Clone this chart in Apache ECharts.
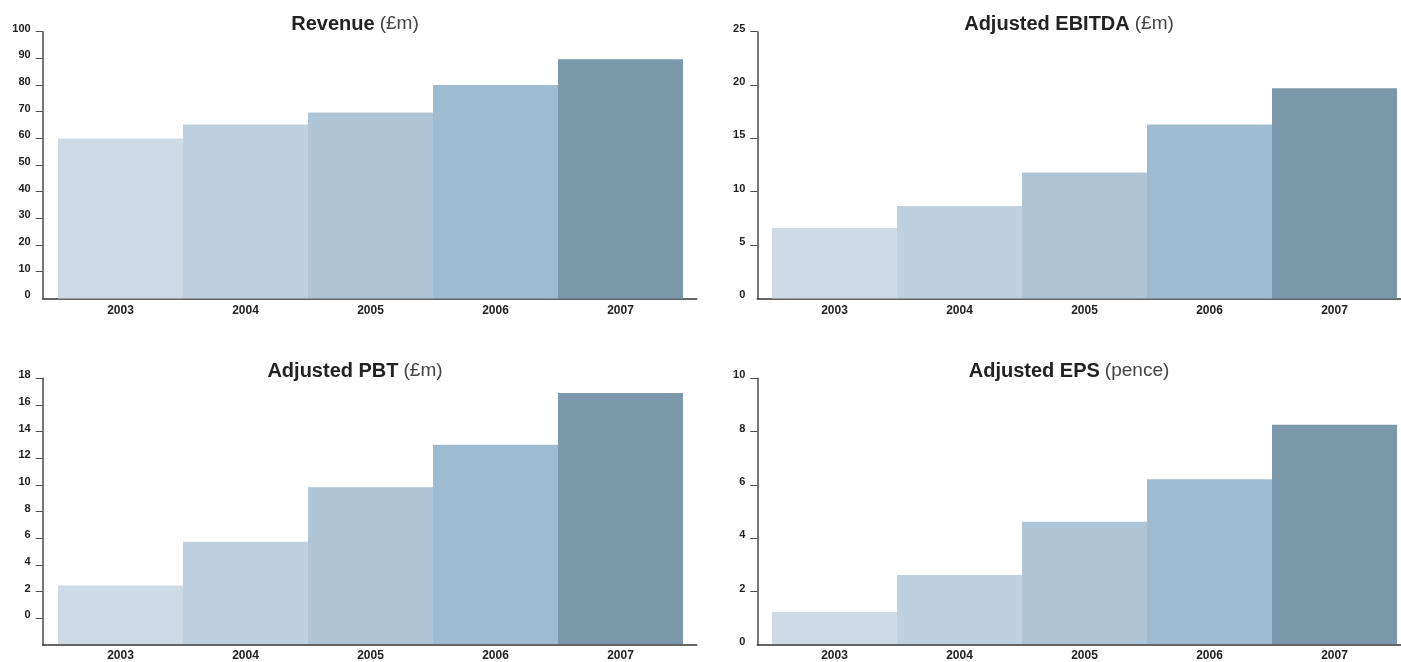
<!DOCTYPE html>
<html>
<head>
<meta charset="utf-8">
<script src="https://cdn.jsdelivr.net/npm/echarts@6/dist/echarts.min.js"></script>
<style>
html,body{margin:0;padding:0;background:#fff;}
#chart{width:1401px;height:662px;}
</style>
</head>
<body>
<div id="chart"></div>
<script>
// ---- data ----
const years = ['2003', '2004', '2005', '2006', '2007'];
const revenue = [60, 65.2, 69.7, 80, 89.7];
const ebitda = [6.6, 8.65, 11.8, 16.3, 19.7];
const pbt = [2.4, 5.7, 9.8, 13.0, 16.9];
const eps = [1.2, 2.6, 4.6, 6.2, 8.25];
const titleBold = ['Revenue', 'Adjusted EBITDA', 'Adjusted PBT', 'Adjusted EPS'];
const titleUnit = ['(£m)', '(£m)', '(£m)', '(pence)'];
const axisMin = [0, 0, -2, 0];
const axisMax = [100, 25, 18, 10];
const axisStep = [10, 5, 2, 2];
const tickLabels = [
  [0, 10, 20, 30, 40, 50, 60, 70, 80, 90, 100],
  [0, 5, 10, 15, 20, 25],
  [0, 2, 4, 6, 8, 10, 12, 14, 16, 18],
  [0, 2, 4, 6, 8, 10]
];

// ---- styles / layout ----
const barColors = ['#cfdbe4', '#bfd1de', '#afc5d5', '#a0bbcf', '#7b99aa'];
const FONT = '"Liberation Sans", Arial, Helvetica, sans-serif';
const layout = [
  { axisLeft: 42.7, axisWidth: 654, barLeft: 58, barWidth: 625, top: 31.7, titleX: 355, titleTop: 14 },
  { axisLeft: 757.3, axisWidth: 644, barLeft: 772, barWidth: 625, top: 31.7, titleX: 1069, titleTop: 14 },
  { axisLeft: 42.7, axisWidth: 654, barLeft: 58, barWidth: 625, top: 378.3, titleX: 355, titleTop: 361 },
  { axisLeft: 757.3, axisWidth: 644, barLeft: 772, barWidth: 625, top: 378.3, titleX: 1069, titleTop: 361 }
];
const plotHeight = 266.7;
const seriesData = [revenue, ebitda, pbt, eps];

const grid = [], xAxis = [], yAxis = [], series = [], title = [];
seriesData.forEach(function (vals, p) {
  const L = layout[p];
  const gAxis = grid.length;
  grid.push({ left: L.axisLeft, top: L.top, width: L.axisWidth, height: plotHeight, containLabel: false });
  const gBar = grid.length;
  grid.push({ left: L.barLeft, top: L.top, width: L.barWidth, height: plotHeight, containLabel: false });

  // axis-only grid
  xAxis.push({
    gridIndex: gAxis, type: 'value', min: 0, max: 1,
    axisLine: { show: true, onZero: false, lineStyle: { color: '#333', width: 1.5 } },
    axisTick: { show: false }, axisLabel: { show: false }, splitLine: { show: false }
  });
  yAxis.push({
    gridIndex: gAxis, type: 'value', min: axisMin[p], max: axisMax[p], interval: axisStep[p],
    axisLine: { show: true, onZero: false, lineStyle: { color: '#4a4a4a', width: 1.5 } },
    axisTick: {
      show: true, length: 7, lineStyle: { color: '#4a4a4a', width: 1 },
      customValues: tickLabels[p].filter(function (v) { return v > axisMin[p]; })
    },
    axisLabel: {
      show: true, margin: 12, fontSize: 11, fontWeight: 'bold', color: '#222', fontFamily: FONT,
      verticalAlign: 'bottom', lineHeight: 6,
      customValues: tickLabels[p],
      formatter: function (v) { return v < 0 ? '' : String(v); }
    },
    splitLine: { show: false }
  });

  // bar grid
  const xi = xAxis.length;
  xAxis.push({
    gridIndex: gBar, type: 'category', data: years,
    axisLine: { show: false }, axisTick: { show: false },
    axisLabel: { margin: 6, fontSize: 12, fontWeight: 'bold', color: '#222', fontFamily: FONT }
  });
  const yi = yAxis.length;
  yAxis.push({
    gridIndex: gBar, type: 'value', min: axisMin[p], max: axisMax[p], interval: axisStep[p],
    startValue: axisMin[p], show: false, splitLine: { show: false }
  });
  series.push({
    type: 'bar', xAxisIndex: xi, yAxisIndex: yi, data: vals,
    barCategoryGap: '0%', silent: true,
    itemStyle: { color: function (d) { return barColors[d.dataIndex]; } }
  });

  title.push({
    text: '{b|' + titleBold[p] + '} {n|' + titleUnit[p] + '}',
    left: L.titleX, top: L.titleTop, textAlign: 'center', padding: 0,
    textStyle: {
      rich: {
        b: { fontSize: 20, fontWeight: 'bold', color: '#222', fontFamily: FONT },
        n: { fontSize: 19, fontWeight: 'normal', color: '#444', fontFamily: FONT }
      }
    }
  });
});

const chart = echarts.init(document.getElementById('chart'), null, { renderer: 'canvas' });
chart.setOption({
  animation: false,
  backgroundColor: '#fff',
  title: title,
  grid: grid,
  xAxis: xAxis,
  yAxis: yAxis,
  series: series
});
</script>
</body>
</html>
